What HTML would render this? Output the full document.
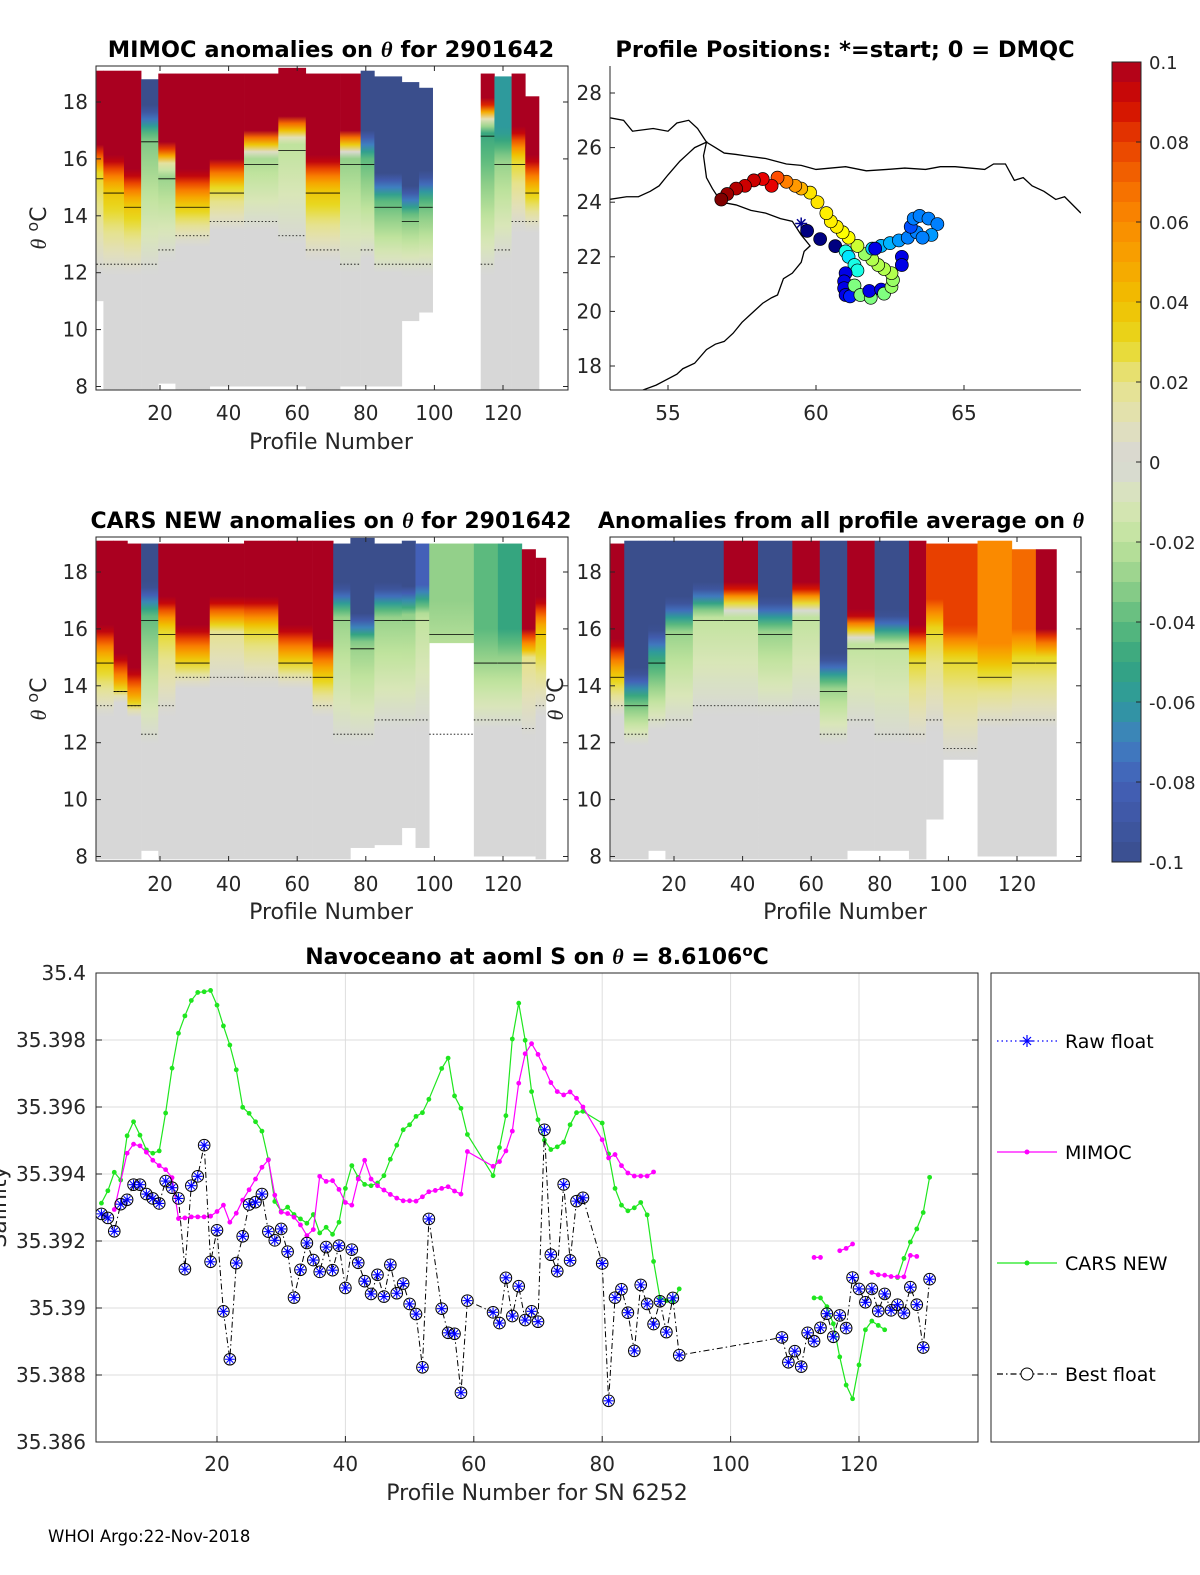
<!DOCTYPE html>
<html><head><meta charset="utf-8"><style>
html,body{margin:0;padding:0;background:#fff;}
svg{display:block;font-family:"DejaVu Sans","Liberation Sans",sans-serif;}
</style></head><body>
<svg id="fig" width="1200" height="1575" viewBox="0 0 1200 1575" xmlns="http://www.w3.org/2000/svg">
<defs>
<clipPath id="clipA"><rect x="96" y="66" width="472" height="324"/></clipPath>
<clipPath id="clipC"><rect x="96" y="537" width="472" height="324"/></clipPath>
<clipPath id="clipD"><rect x="610" y="537" width="471" height="324"/></clipPath>
<clipPath id="clipM"><rect x="610" y="66" width="471" height="324"/></clipPath>
<clipPath id="clipB"><rect x="96" y="973" width="882" height="469"/></clipPath>
</defs>
<text x="331" y="57" text-anchor="middle" font-size="22.5" font-weight="bold">MIMOC anomalies on <tspan font-style="italic" font-family="Liberation Serif,serif">θ</tspan>  for 2901642</text>
<text x="845" y="57" text-anchor="middle" font-size="22.5" font-weight="bold">Profile Positions: *=start; 0 = DMQC</text>
<text x="331" y="528" text-anchor="middle" font-size="22" font-weight="bold">CARS NEW anomalies on <tspan font-style="italic" font-family="Liberation Serif,serif">θ</tspan> for 2901642</text>
<text x="841" y="528" text-anchor="middle" font-size="22" font-weight="bold">Anomalies from all profile average on <tspan font-style="italic" font-family="Liberation Serif,serif">θ</tspan></text>
<text x="537" y="964" text-anchor="middle" font-size="22" font-weight="bold">Navoceano at aoml S on <tspan font-style="italic" font-family="Liberation Serif,serif">θ</tspan> = 8.6106<tspan dy="-8" font-size="15">o</tspan><tspan dy="8">C</tspan></text>
<text x="331" y="449" text-anchor="middle" font-size="22" fill="#262626">Profile Number</text>
<text x="331" y="919" text-anchor="middle" font-size="22" fill="#262626">Profile Number</text>
<text x="845" y="919" text-anchor="middle" font-size="22" fill="#262626">Profile Number</text>
<text x="537" y="1500" text-anchor="middle" font-size="22" fill="#262626">Profile Number for SN 6252</text>
<text transform="translate(46,228) rotate(-90)" text-anchor="middle" font-size="22" fill="#262626"><tspan font-style="italic" font-family="Liberation Serif,serif">θ</tspan> <tspan dy="-8" font-size="16">o</tspan><tspan dy="8">C</tspan></text>
<text transform="translate(46,699) rotate(-90)" text-anchor="middle" font-size="22" fill="#262626"><tspan font-style="italic" font-family="Liberation Serif,serif">θ</tspan> <tspan dy="-8" font-size="16">o</tspan><tspan dy="8">C</tspan></text>
<text transform="translate(563,699) rotate(-90)" text-anchor="middle" font-size="22" fill="#262626"><tspan font-style="italic" font-family="Liberation Serif,serif">θ</tspan> <tspan dy="-8" font-size="16">o</tspan><tspan dy="8">C</tspan></text>
<text transform="translate(6,1207) rotate(-90)" text-anchor="middle" font-size="22" fill="#262626">Salinity</text>
<text x="48" y="1542" font-size="16.5" fill="#000">WHOI Argo:22-Nov-2018</text>
<g id="plots"></g>
</svg>
<script>
// ---------- heatmap data: [startProfile, endProfile, topAnomaly, transitionTheta, midAnomaly, grayTheta, bottomTheta, topTheta]
const mimocSegments = [
[2,3,0.1,16.5,0.03,12,11,19.1],[4,9,0.1,16,0.04,12,7.9,19.1],[10,14,0.1,15.5,0.04,12,7.9,19.1],
[15,19,-0.1,17.8,-0.035,12,7.9,18.8],[20,24,0.1,16.5,-0.03,12.5,8.1,19.0],[25,34,0.1,15.5,0.04,13,7.9,19.0],
[35,44,0.1,16,0.03,13.5,8.0,19.0],[45,54,0.1,17,-0.025,13.5,8.0,19.0],[55,62,0.1,17.5,-0.02,13,8.0,19.2],
[63,72,0.1,16,0.04,12.5,7.9,19.0],[73,78,0.1,17,-0.03,12,8.0,19.0],[79,82,-0.1,17,-0.04,12.5,8.0,19.1],
[83,90,-0.1,15.5,-0.04,12,8.0,18.9],[91,95,-0.1,15,-0.035,12,10.3,18.7],[96,99,-0.1,15.5,-0.04,12,10.6,18.5],
[114,117,0.1,18,-0.05,12,7.9,19.0],[118,122,-0.06,17,-0.03,12.5,7.9,18.9],[123,126,0.1,17,0.03,13.5,7.9,19.0],
[127,130,0.1,16,0.04,13.5,7.9,18.2]];
const carsSegments = [
[2,6,0.1,16,0.04,13,7.9,19.1],[7,10,0.1,15,0.04,13.5,7.9,19.1],[11,14,0.1,14.5,0.04,13,7.9,19.0],
[15,19,-0.1,17.5,-0.04,12,8.2,19.0],[20,24,0.1,17,0.03,13,7.9,19.0],[25,34,0.1,16,0.04,14,7.9,19.0],
[35,44,0.1,17,0.02,14,7.9,19.0],[45,54,0.1,17,0.03,14,7.9,19.1],[55,64,0.1,16,0.04,14,7.9,19.1],
[65,70,0.1,15.5,0.04,13,7.9,19.1],[71,75,-0.1,17.5,-0.03,12,7.9,19.0],[76,82,-0.1,16.5,-0.03,12,8.3,19.2],
[83,90,-0.1,17.5,-0.03,12.5,8.4,19.0],[91,94,-0.1,17.5,-0.03,12.5,9.0,19.1],[95,98,-0.08,17.5,-0.02,12.5,8.3,19.0],
[99,111,-0.03,17,-0.025,12,15.5,19.0],[112,118,-0.04,16,-0.03,12.5,8.0,19.0],[119,125,-0.05,16,-0.03,12.5,8.0,19.0],
[126,129,0.1,16,0.02,12.2,8.0,18.8],[130,132,0.1,17,0.04,13,7.9,18.5]];
const averageSegments = [
[2,5,0.1,15.5,0.04,13,7.9,19.0],[6,12,-0.1,14.5,-0.04,12,7.9,19.1],[13,17,-0.1,16,-0.05,12.5,8.2,19.1],
[18,25,-0.1,17,-0.03,12.5,7.9,19.1],[26,34,-0.1,17.5,-0.02,13,7.9,19.1],[35,44,0.1,17.5,-0.02,13,7.9,19.1],
[45,54,-0.1,17,-0.03,13,7.9,19.1],[55,62,0.1,17.5,-0.02,13,7.9,19.1],[63,70,-0.1,15,-0.03,12,7.9,19.1],
[71,78,0.1,16.5,-0.02,12.5,8.2,19.1],[79,88,-0.1,16.5,-0.02,12,8.2,19.1],[89,93,0.1,16,0.03,12,7.9,19.1],
[94,98,0.08,17,0.03,12.5,9.3,19.0],[99,108,0.08,16,0.03,11.5,11.4,19.0],[109,118,0.06,15.5,0.03,12.5,8.0,19.1],
[119,125,0.07,16,0.03,12.5,8.0,18.8],[126,131,0.1,16,0.03,12.5,8.0,18.8]];
const thetaTicks = [8,10,12,14,16,18];
const profileTicks = [20,40,60,80,100,120];
const colorbarTicks = ["0.1","0.08","0.06","0.04","0.02","0","-0.02","-0.04","-0.06","-0.08","-0.1"];
// ---------- map data
const trackLon = [59.7,60.14,60.65,61.0,61.1,61.3,61.4,61.0,60.95,60.95,61.0,61.15,61.3,61.5,61.85,61.8,62.2,62.3,62.55,62.6,62.55,62.3,62.1,61.9,61.65,61.4,61.1,60.9,60.7,60.5,60.35,60.05,59.8,59.5,59.3,59.0,58.7,58.5,58.2,57.9,57.6,57.3,57.0,56.8,61.9,62.2,62.5,62.8,63.1,63.4,63.2,63.3,63.5,63.8,64.1,63.9,63.6,62.9,62.9,62.0];
const trackLat = [22.95,22.65,22.39,22.2,22.0,21.7,21.5,21.4,21.1,20.85,20.6,20.55,20.95,20.6,20.5,20.75,20.8,20.65,20.9,21.15,21.4,21.55,21.7,21.9,22.1,22.4,22.7,22.9,23.1,23.3,23.6,24.0,24.35,24.5,24.6,24.75,24.9,24.6,24.85,24.8,24.6,24.5,24.3,24.1,22.3,22.4,22.5,22.6,22.7,22.9,23.1,23.4,23.5,23.4,23.2,22.8,22.7,22.0,21.7,22.3];
const trackVal = [-0.1,-0.1,-0.1,-0.02,-0.03,-0.02,-0.02,-0.08,-0.08,-0.08,-0.08,-0.07,0,0,0,-0.08,-0.08,0,0.005,0.005,0.01,0.01,0.01,0.01,0.005,0.015,0.025,0.025,0.028,0.028,0.028,0.03,0.03,0.04,0.045,0.05,0.06,0.08,0.08,0.085,0.085,0.09,0.095,0.1,-0.035,-0.04,-0.04,-0.045,-0.05,-0.05,-0.06,-0.05,-0.05,-0.05,-0.05,-0.045,-0.05,-0.08,-0.08,-0.08];
const mapLonTicks = [55,60,65];
const mapLatTicks = [18,20,22,24,26,28];
const iranLon = [53.0,53.5,53.8,54.5,55.0,55.3,55.7,56.0,56.3,56.6,56.9,57.3,57.6,58.3,59.0,59.5,60.0,60.5,61.0,61.7,62.4,63.0,63.7,64.2,64.7,65.2,65.7,66.0,66.4,66.7,67.0,67.3,67.7,68.1,68.4,68.95];
const iranLat = [27.1,27.0,26.6,26.7,26.6,26.9,27.0,26.7,26.2,26.0,25.8,25.75,25.7,25.6,25.4,25.35,25.2,25.25,25.3,25.15,25.2,25.25,25.2,25.3,25.3,25.25,25.2,25.4,25.4,24.8,24.9,24.6,24.4,24.1,24.2,23.6];
const arabiaLon = [53.0,53.6,54.0,54.4,54.7,55.0,55.4,55.7,55.9,56.1,56.3,56.2,56.25,56.3,56.5,56.8,57.3,57.8,58.3,58.8,59.2,59.5,59.8,59.6,59.5,59.2,58.9,58.7,58.5,58.2,57.8,57.5,57.2,56.9,56.6,56.3,55.9,55.5,55.3,54.6,54.1];
const arabiaLat = [24.1,24.2,24.2,24.4,24.6,25.0,25.5,25.8,26.0,26.1,26.2,25.7,25.3,24.9,24.5,24.0,23.9,23.7,23.6,23.4,23.3,22.8,22.4,22.2,21.8,21.4,21.2,20.6,20.5,20.3,19.9,19.6,19.2,18.9,18.8,18.6,18.1,17.9,17.7,17.3,17.1];
// ---------- salinity line chart data
const bestProfiles = [2,3,4,5,6,7,8,9,10,11,12,13,14,15,16,17,18,19,20,21,22,23,24,25,26,27,28,29,30,31,32,33,34,35,36,37,38,39,40,41,42,43,44,45,46,47,48,49,50,51,52,53,55,56,57,58,59,63,64,65,66,67,68,69,70,71,72,73,74,75,76,77,80,81,82,83,84,85,86,87,88,89,90,91,92,108,109,110,111,112,113,114,115,116,117,118,119,120,121,122,123,124,125,126,127,128,129,130,131];
const bestSalinity = [35.39281,35.39269,35.39229,35.3931,35.39323,35.39368,35.39368,35.3934,35.39327,35.39312,35.39379,35.39359,35.39327,35.39116,35.39365,35.39393,35.39486,35.39138,35.39232,35.3899,35.38847,35.39134,35.39214,35.39309,35.39316,35.3934,35.39228,35.39202,35.39236,35.39168,35.39031,35.39114,35.39194,35.39143,35.39108,35.39182,35.39113,35.39186,35.3906,35.39174,35.39135,35.3908,35.39042,35.39099,35.39034,35.39129,35.39044,35.39073,35.39012,35.38982,35.38823,35.39266,35.38998,35.38926,35.38923,35.38747,35.39022,35.38987,35.38955,35.3909,35.38976,35.39065,35.38964,35.3899,35.38959,35.39532,35.39159,35.3911,35.39369,35.39142,35.39319,35.39329,35.39133,35.38723,35.39031,35.39056,35.38986,35.38872,35.39069,35.39012,35.38952,35.3902,35.38928,35.3903,35.38859,35.38912,35.38838,35.38871,35.38825,35.38926,35.38901,35.38941,35.38983,35.38914,35.38978,35.3894,35.39091,35.39057,35.39017,35.39057,35.38991,35.39042,35.38993,35.3901,35.38985,35.39062,35.3901,35.38882,35.39086];
const mimocProfiles = [4,6,7,8,9,10,11,12,13,14,15,16,17,18,19,20,21,22,23,24,25,26,27,28,29,30,31,32,33,34,35,36,37,38,39,40,41,42,43,44,45,46,47,48,49,50,51,52,53,54,55,56,57,58,59,63,64,65,66,67,68,69,70,71,72,73,74,75,76,77,80,81,82,83,84,85,86,87,88,null,113,114,null,117,118,119,null,122,123,124,125,126,127,128,129];
const mimocSalinity = [35.39294,35.39462,35.39489,35.39484,35.39465,35.39441,35.39425,35.39413,35.39389,35.39267,35.39269,35.39272,35.39272,35.39272,35.39274,35.39288,35.39307,35.39256,35.39283,35.39322,35.39353,35.39385,35.3942,35.39442,35.39337,35.39286,35.39282,35.39271,35.39248,35.39216,35.39234,35.39393,35.39378,35.3938,35.39354,35.39315,35.39307,35.39385,35.39441,35.39385,35.39365,35.39352,35.39339,35.39328,35.3932,35.3932,35.39319,35.39332,35.39347,35.39351,35.39357,35.39362,35.39349,35.3934,35.39467,35.39423,35.39437,35.39469,35.39528,35.39671,35.39759,35.39789,35.39757,35.39716,35.39673,35.39646,35.39636,35.39645,35.39626,35.396,35.39502,35.39448,35.39458,35.39425,35.39403,35.39394,35.39394,35.39394,35.39406,null,35.39151,35.39151,null,35.39171,35.39178,35.39191,null,35.39106,35.39099,35.39098,35.39094,35.39093,35.39093,35.39157,35.39154];
const carsProfiles = [2,3,4,5,6,7,8,9,10,11,12,13,14,15,16,17,18,19,20,21,22,23,24,25,26,27,28,29,30,31,32,33,34,35,36,37,38,39,40,41,42,43,44,45,46,47,48,49,50,51,52,53,55,56,57,58,59,63,64,65,66,67,68,69,70,71,72,73,74,75,76,77,80,81,82,83,84,85,86,87,88,89,90,91,92,null,113,114,115,116,117,118,119,120,121,122,123,124,null,126,127,128,129,130,131];
const carsSalinity = [35.39313,35.3935,35.39405,35.39382,35.39514,35.39556,35.39516,35.39472,35.39462,35.39469,35.39582,35.39716,35.3982,35.39872,35.39918,35.39942,35.39944,35.39948,35.39904,35.39842,35.39785,35.39711,35.39599,35.39581,35.39556,35.39528,35.39443,35.39318,35.39289,35.39301,35.39279,35.39266,35.39253,35.39279,35.39224,35.39241,35.3922,35.39256,35.39357,35.39425,35.3939,35.39369,35.39365,35.39373,35.39395,35.39444,35.39486,35.39532,35.39547,35.39572,35.39583,35.39623,35.39715,35.39746,35.39633,35.39596,35.39518,35.39395,35.39479,35.39574,35.39803,35.3991,35.39799,35.39646,35.39562,35.39501,35.39473,35.39481,35.39495,35.39547,35.39583,35.39587,35.39552,35.3946,35.39357,35.39307,35.3929,35.39299,35.39315,35.39278,35.39139,35.39029,35.39022,35.3902,35.39057,null,35.3903,35.3903,35.39004,35.38953,35.38854,35.3877,35.38729,35.3883,35.38935,35.38961,35.38948,35.38935,null,35.39091,35.39148,35.39197,35.39236,35.39285,35.3939];
const salinityTicks = ["35.386","35.388","35.39","35.392","35.394","35.396","35.398","35.4"];
const salinityProfileTicks = [20,40,60,80,100,120];
const legendLabels = ["Raw float","MIMOC","CARS NEW","Best float"];

const NS = "http://www.w3.org/2000/svg";
const root = document.getElementById('plots');
const defs = document.querySelector('defs');
function mk(tag, attrs, parent){ const e=document.createElementNS(NS,tag); for(const k in attrs) e.setAttribute(k,attrs[k]); (parent||root).appendChild(e); return e; }

const cmV=[-0.1,-0.08,-0.07,-0.06,-0.05,-0.04,-0.03,-0.02,-0.01,0,0.01,0.02,0.03,0.04,0.05,0.06,0.07,0.08,0.09,0.1];
const cmC=["#3a4e8c","#4360b8","#3f7fc0","#2e9a9c","#35a57f","#5cba7e","#93d08a","#bfe39d","#d9e6b8","#d7d7d7","#e2e0b8","#e6e28a","#e8d820","#f0c000","#f7a400","#fa8a00","#f46a00","#e84000","#d00a00","#aa0020"];
function hex(c){return [parseInt(c.substr(1,2),16),parseInt(c.substr(3,2),16),parseInt(c.substr(5,2),16)];}
function heat(v){ v=Math.max(-0.1,Math.min(0.1,v)); for(let i=0;i<cmV.length-1;i++){ if(v<=cmV[i+1]){ const t=(v-cmV[i])/(cmV[i+1]-cmV[i]); const a=hex(cmC[i]),b=hex(cmC[i+1]); return 'rgb('+a.map((x,j)=>Math.round(x+(b[j]-x)*t)).join(',')+')'; } } return cmC[cmC.length-1]; }
function jet(v){ let t=(v+0.1)/0.2; t=Math.max(0,Math.min(1,t)); const f=(x)=>Math.max(0,Math.min(1,1.5-Math.abs(4*t-x))); return 'rgb('+[f(3),f(2),f(1)].map(x=>Math.round(x*255)).join(',')+')'; }

function anomalyAt(seg, th){ const [p0,p1,top,trans,mid,gray]=seg; if(th>=trans) return top; if(th>=trans-1) return mid+(top-mid)*(th-(trans-1)); if(th>=gray) return mid*(th-gray)/Math.max(0.1,(trans-1-gray)); return 0; }

let gradId=0;
function heatPanel(name, segs, x0, clip, yBase){
  const px=(p)=>x0+3.43*p, py=(t)=>yBase-(t-8)*28.45;
  const g=mk('g',{'clip-path':'url(#'+clip+')'});
  
  
  segs.forEach(seg=>{
    const id='hg'+(gradId++);
    const lg=mk('linearGradient',{id:id,x1:0,y1:1,x2:0,y2:0},defs);
    const bot=seg[6], topT=seg[7];
    for(let th=bot; th<=topT+0.001; th+=0.25){ mk('stop',{offset:((th-bot)/(topT-bot)).toFixed(4),'stop-color':heat(anomalyAt(seg,th))},lg); }
    const r=mk('rect',{x:px(seg[0]-0.5),y:py(topT),width:3.43*(seg[1]-seg[0]+1)+0.3,height:py(bot)-py(topT),fill:'url(#'+id+')'},g);
    
    
    const c=mk('line',{x1:px(seg[0]-0.5),x2:px(seg[1]+0.5),y1:py(seg[5]+0.3),y2:py(seg[5]+0.3),stroke:'#000','stroke-width':0.8,'stroke-dasharray':'1.5,2'},g);
    
    
    const c2=mk('line',{x1:px(seg[0]-0.5),x2:px(seg[1]+0.5),y1:py(seg[3]-1.2),y2:py(seg[3]-1.2),stroke:'#000','stroke-width':0.8},g);
    
    
  });
}
function thetaAxes(name, x0, x1, y0, y1, px0, yBase){
  const px=(p)=>px0+3.43*p, py=(t)=>yBase-(t-8)*28.45;
  const b=mk('rect',{x:x0,y:y0,width:x1-x0,height:y1-y0,fill:'none',stroke:'#262626','stroke-width':1});
  
  
  thetaTicks.forEach(t=>{
    const y=py(t);
    mk('line',{x1:x0,x2:x0+5,y1:y,y2:y,stroke:'#262626'}); mk('line',{x1:x1-5,x2:x1,y1:y,y2:y,stroke:'#262626'});
    const tx=mk('text',{x:x0-8,y:y+7,'text-anchor':'end','font-size':20,fill:'#262626'}); tx.textContent=t;
    
    
  });
  profileTicks.forEach(p=>{
    const x=px(p);
    mk('line',{x1:x,x2:x,y1:y1,y2:y1-5,stroke:'#262626'}); mk('line',{x1:x,x2:x,y1:y0,y2:y0+5,stroke:'#262626'});
    const tx=mk('text',{x:x,y:y1+30,'text-anchor':'middle','font-size':20,fill:'#262626'}); tx.textContent=p;
    
    
  });
}
heatPanel('mimoc', mimocSegments, 91.4, 'clipA', 386.5);
thetaAxes('mimoc', 96, 568, 66, 390, 91.4, 386.5);
heatPanel('cars', carsSegments, 91.4, 'clipC', 856.5);
thetaAxes('cars', 96, 568, 537, 861, 91.4, 856.5);
heatPanel('average', averageSegments, 605.4, 'clipD', 856.5);
thetaAxes('average', 610, 1081, 537, 861, 605.4, 856.5);

// ---------- map
(function(){
  const mx=(lon)=>668+(lon-55)*29.6, my=(lat)=>93+(28-lat)*27.3;
  const g=mk('g',{'clip-path':'url(#clipM)'});
  
  
  const c1=mk('polyline',{points:iranLon.map((l,i)=>mx(l)+','+my(iranLat[i])).join(' '),fill:'none',stroke:'#000','stroke-width':1.3},g);
  
  
  const c2=mk('polyline',{points:arabiaLon.map((l,i)=>mx(l)+','+my(arabiaLat[i])).join(' '),fill:'none',stroke:'#000','stroke-width':1.3},g);
  
  
  const sx=mx(59.5), sy=my(23.22);
  for(let a=0;a<4;a++){ const an=a*Math.PI/4; mk('line',{x1:sx-6*Math.cos(an),y1:sy-6*Math.sin(an),x2:sx+6*Math.cos(an),y2:sy+6*Math.sin(an),stroke:'#00008f','stroke-width':1.5},g); }
  trackLon.forEach((l,i)=>{
    const c=mk('circle',{cx:mx(l),cy:my(trackLat[i]),r:6.5,fill:jet(trackVal[i]),stroke:'#000','stroke-width':0.7},g);
    
    
  });
  mk('line',{x1:610,x2:610,y1:66,y2:390,stroke:'#262626'}); mk('line',{x1:610,x2:1081,y1:390,y2:390,stroke:'#262626'});
  mapLatTicks.forEach(t=>{ const y=my(t); mk('line',{x1:610,x2:615,y1:y,y2:y,stroke:'#262626'});
    const tx=mk('text',{x:602,y:y+7,'text-anchor':'end','font-size':20,fill:'#262626'}); tx.textContent=t;
    
     });
  mapLonTicks.forEach(t=>{ const x=mx(t); mk('line',{x1:x,x2:x,y1:390,y2:385,stroke:'#262626'});
    const tx=mk('text',{x:x,y:420,'text-anchor':'middle','font-size':20,fill:'#262626'}); tx.textContent=t;
    
     });
})();

// ---------- colorbar
(function(){
  const g=mk('g',{});
  
  
  const y0=62,y1=862,n=40;
  for(let i=0;i<n;i++){ const v=0.1-(i+0.5)*0.2/n; mk('rect',{x:1112,y:y0+i*(y1-y0)/n,width:29,height:(y1-y0)/n+0.5,fill:heat(v)},g); }
  mk('rect',{x:1112,y:y0,width:29,height:y1-y0,fill:'none',stroke:'#262626'},g);
  colorbarTicks.forEach((t,i)=>{ const y=y0+i*80; mk('line',{x1:1136,x2:1141,y1:y,y2:y,stroke:'#262626'},g);
    const tx=mk('text',{x:1149,y:y+7,'font-size':18,fill:'#262626'},g); tx.textContent=t;
    
     });
})();

// ---------- salinity chart
(function(){
  const bx=(p)=>88.6+6.42*p, by=(s)=>973+(35.4-s)/0.002*67;
  const gg=mk('g',{});
  
  
  salinityTicks.forEach(t=>{ const y=by(parseFloat(t)); mk('line',{x1:96,x2:978,y1:y,y2:y,stroke:'#dedede'},gg);
    mk('line',{x1:96,x2:102,y1:y,y2:y,stroke:'#262626'}); mk('line',{x1:972,x2:978,y1:y,y2:y,stroke:'#262626'});
    const tx=mk('text',{x:86,y:y+7,'text-anchor':'end','font-size':20,fill:'#262626'}); tx.textContent=t;
    
     });
  salinityProfileTicks.forEach(p=>{ const x=bx(p); mk('line',{x1:x,x2:x,y1:973,y2:1442,stroke:'#dedede'},gg);
    mk('line',{x1:x,x2:x,y1:1442,y2:1436,stroke:'#262626'});
    const tx=mk('text',{x:x,y:1471,'text-anchor':'middle','font-size':20,fill:'#262626'}); tx.textContent=p;
    
     });
  const pg=mk('g',{'clip-path':'url(#clipB)'});
  function pathOf(xs,ys){ let d='',pen=false; xs.forEach((p,i)=>{ if(p===null||ys[i]===null){pen=false;return;} d+=(pen?'L':'M')+bx(p).toFixed(1)+','+by(ys[i]).toFixed(1); pen=true; }); return d; }
  const lc=mk('path',{d:pathOf(carsProfiles,carsSalinity),fill:'none',stroke:'#1fe61f','stroke-width':1.2},pg);
  
  
  carsProfiles.forEach((p,i)=>{ if(p===null) return; const c=mk('circle',{cx:bx(p),cy:by(carsSalinity[i]),r:2.4,fill:'#1fe61f'},pg);
    
     });
  const lm=mk('path',{d:pathOf(mimocProfiles,mimocSalinity),fill:'none',stroke:'#ff00ff','stroke-width':1.2},pg);
  
  
  mimocProfiles.forEach((p,i)=>{ if(p===null) return; const c=mk('circle',{cx:bx(p),cy:by(mimocSalinity[i]),r:2.4,fill:'#ff00ff'},pg);
    
     });
  const lb=mk('path',{d:pathOf(bestProfiles,bestSalinity),fill:'none',stroke:'#000','stroke-width':1,'stroke-dasharray':'6,3,1.5,3'},pg);
  
  
  bestProfiles.forEach((p,i)=>{ const x=bx(p),y=by(bestSalinity[i]);
    const c=mk('circle',{cx:x,cy:y,r:5.8,fill:'none',stroke:'#000','stroke-width':1},pg);
    
    
    const s=mk('path',{d:`M${x-5},${y}H${x+5}M${x},${y-5}V${y+5}M${x-3.5},${y-3.5}L${x+3.5},${y+3.5}M${x-3.5},${y+3.5}L${x+3.5},${y-3.5}`,stroke:'#0000ff','stroke-width':1.1,fill:'none'},pg);
    
     });
  const box=mk('rect',{x:96,y:973,width:882,height:469,fill:'none',stroke:'#262626'});
  
  
  const lg=mk('g',{});
  
  
  mk('rect',{x:991,y:973,width:208,height:469,fill:'#fff',stroke:'#262626'},lg);
  const ly=[1041,1152,1263,1374];
  legendLabels.forEach((lab,i)=>{
    const e=mk('g',{},lg);
    
    
    const y=ly[i];
    const styles=[{stroke:'#0000ff','stroke-dasharray':'1.5,3'},{stroke:'#ff00ff'},{stroke:'#1fe61f'},{stroke:'#000','stroke-dasharray':'6,3,1.5,3'}];
    const st=Object.assign({x1:997,x2:1057,y1:y,y2:y,'stroke-width':1.2},styles[i]); mk('line',st,e);
    if(i===0) mk('path',{d:`M1021,${y}H1033M1027,${y-6}V${y+6}M1023,${y-4}L1031,${y+4}M1023,${y+4}L1031,${y-4}`,stroke:'#0000ff','stroke-width':1.2},e);
    if(i===1) mk('circle',{cx:1027,cy:y,r:2.5,fill:'#ff00ff'},e);
    if(i===2) mk('circle',{cx:1027,cy:y,r:2.5,fill:'#1fe61f'},e);
    if(i===3) mk('circle',{cx:1027,cy:y,r:6,fill:'#fff',stroke:'#000'},e);
    const t=mk('text',{x:1065,y:y+7,'font-size':19,fill:'#000'},e); t.textContent=lab;
  });
})();
</script>
</body></html>
